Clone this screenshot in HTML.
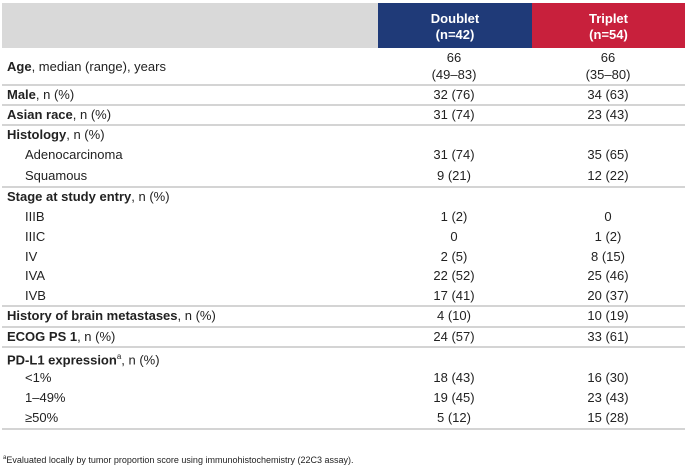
<!DOCTYPE html>
<html><head><meta charset="utf-8"><style>
body{margin:0;width:687px;height:468px;background:#fff;font-family:"Liberation Sans",Arial,sans-serif;color:#222;position:relative;overflow:hidden}
.a{position:absolute;font-size:13px;line-height:15px;white-space:nowrap}
.c{text-align:center;width:150px}
.d{left:379px}.t{left:533px}
.l{position:absolute;left:2px;width:683px;height:2px;background:#d4d4d4}
b{font-weight:bold}
.h{position:absolute;top:3px;height:45px;color:#fff;font-weight:bold;font-size:13px;text-align:center;line-height:16px;box-sizing:border-box;padding-top:8px}
</style></head><body>
<div style="position:absolute;left:2px;top:3px;width:376px;height:45px;background:#d9d9d9"></div>
<div class="h" style="left:378px;width:154px;background:#1f3a78">Doublet<br>(n=42)</div>
<div class="h" style="left:532px;width:153px;background:#c8203c">Triplet<br>(n=54)</div>
<div id="rows"></div>
<div class="a" style="left:3px;top:453px;font-size:9px;line-height:11px"><sup style="font-size:6px">a</sup>Evaluated locally by tumor proportion score using immunohistochemistry (22C3 assay).</div>
<script>
const labels=[["<b>Age</b>, median (range), years",0],["<b>Male</b>, n (%)",0],["<b>Asian race</b>, n (%)",0],["<b>Histology</b>, n (%)",0],["Adenocarcinoma",1],["Squamous",1],["<b>Stage at study entry</b>, n (%)",0],["IIIB",1],["IIIC",1],["IV",1],["IVA",1],["IVB",1],["<b>History of brain metastases</b>, n (%)",0],["<b>ECOG PS 1</b>, n (%)",0],["<b>PD-L1 expression</b><sup style='font-size:8px'>a</sup>, n (%)",0],["&lt;1%",1],["1–49%",1],["≥50%",1]];
const doublet=["66<br>(49–83)","32 (76)","31 (74)","","31 (74)","9 (21)","","1 (2)","0","2 (5)","22 (52)","17 (41)","4 (10)","24 (57)","","18 (43)","19 (45)","5 (12)"];
const triplet=["66<br>(35–80)","34 (63)","23 (43)","","35 (65)","12 (22)","","0","1 (2)","8 (15)","25 (46)","20 (37)","10 (19)","33 (61)","","16 (30)","23 (43)","15 (28)"];
const ys=[66,94,114,134,154,175,196,216,236,256,275,295,315,336,356,377,397,417];
const lines=[84,104,124,186,305,326,346,428];
const R=document.getElementById('rows');
labels.forEach((L,i)=>{
 const y=ys[i]-(i===0?17:7.5);
 const e=document.createElement('div');e.className='a';e.style.left=(L[1]?25:7)+'px';e.style.top=(ys[i]-7.5)+'px';e.innerHTML=L[0];
 
 
 R.appendChild(e);
 [[doublet,'d'],[triplet,'t']].forEach(([arr,cl])=>{
  if(!arr[i])return;
  const v=document.createElement('div');v.className='a c '+cl;v.style.top=y+'px';v.innerHTML=arr[i];
  if(i===0)v.style.lineHeight='17px';
  
  
  R.appendChild(v);
 });
});
lines.forEach(y=>{const l=document.createElement('div');l.className='l';l.style.top=y+'px';
 
 
 R.appendChild(l);});
</script>
</body></html>
